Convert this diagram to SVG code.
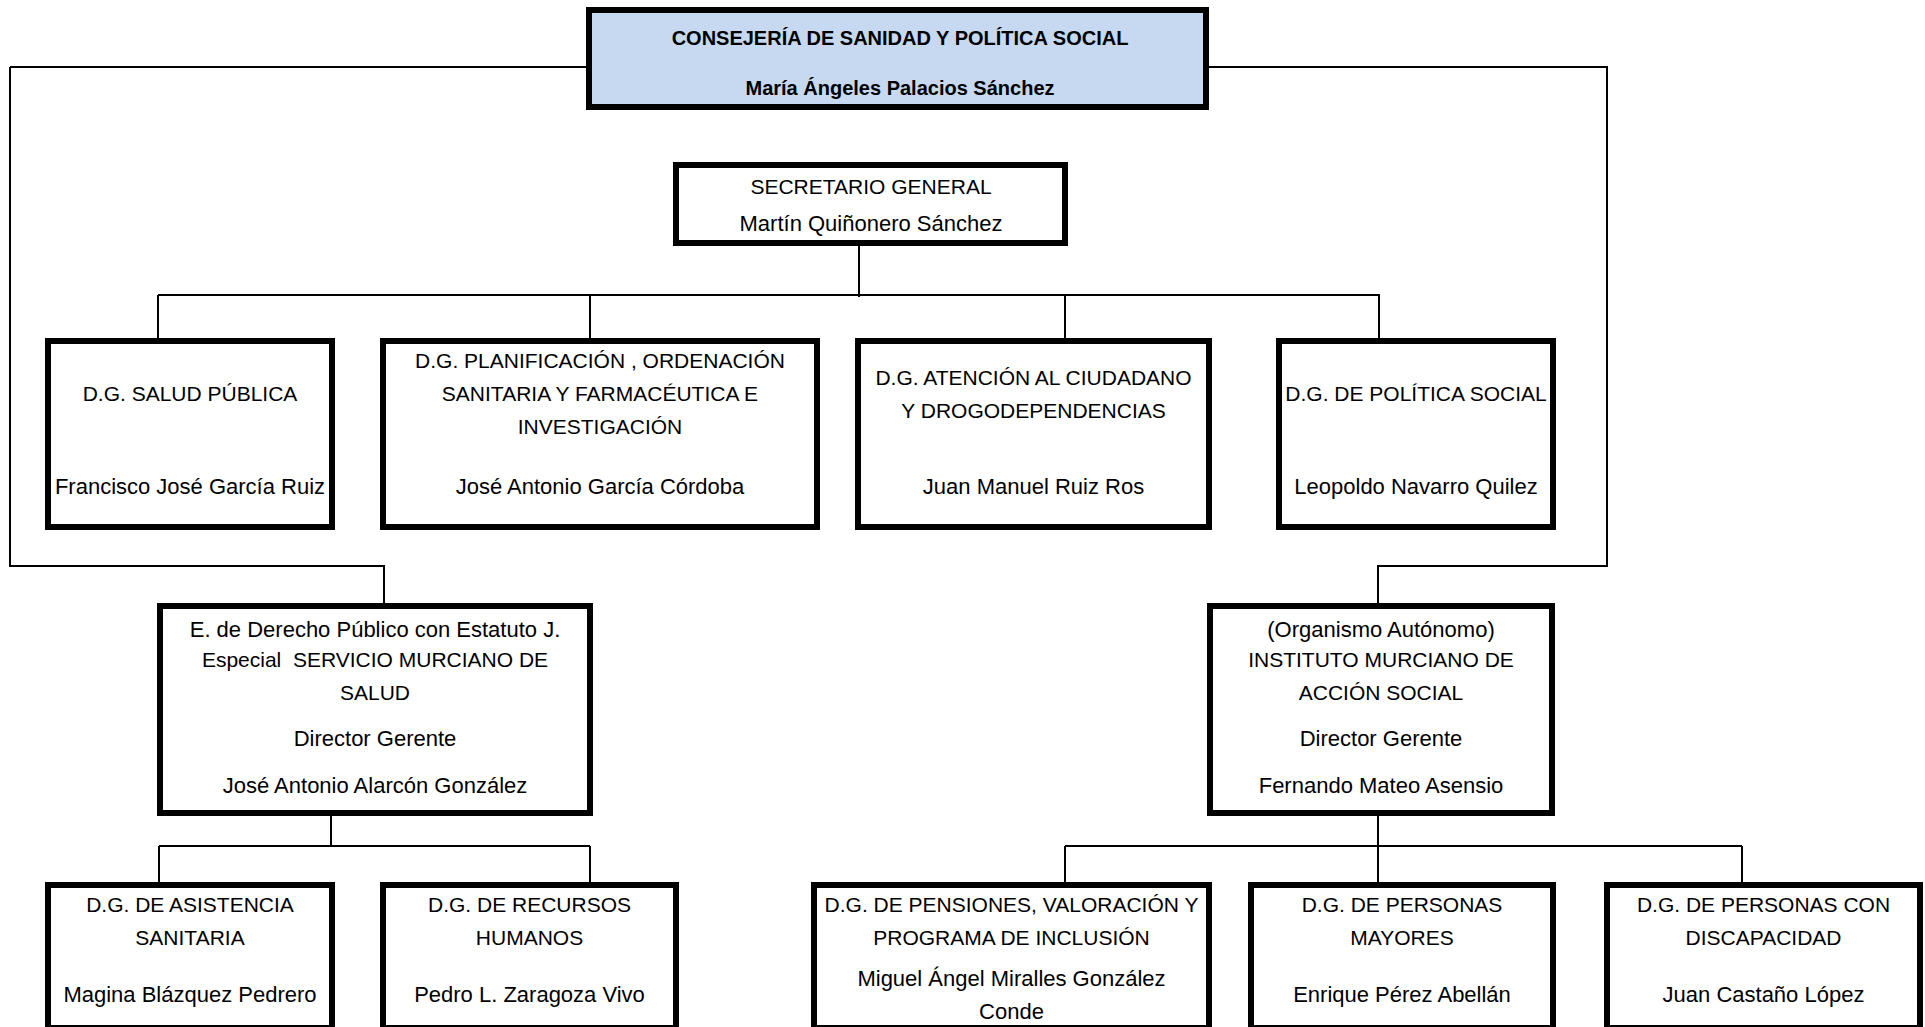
<svg xmlns="http://www.w3.org/2000/svg" width="1925" height="1027" viewBox="0 0 1925 1027">
<style>
.box{fill:#fff;stroke:#000;stroke-width:6}
.top{fill:#C6D9F1;stroke:#000;stroke-width:6}
.c{fill:none;stroke:#000;stroke-width:2}
text{font-family:"Liberation Sans",Arial,sans-serif;fill:#000;text-anchor:middle}
.t{font-size:21px}
.n{font-size:22px}
.b{font-size:20px;font-weight:bold}
</style>
<rect width="1925" height="1027" fill="#fff"/>
<g id="connectors">
<path class="c" d="M10,67 H586 M10,67 V566 H384 V603"/>
<path class="c" d="M1209,67 H1607 V566 H1378 V603"/>
<path class="c" d="M859,246 V297 M158,295 H1380 M158,295 V338 M590,295 V338 M1065,295 V338 M1379,295 V338"/>
<path class="c" d="M331,816 V846 M159,846 H590 M159,846 V882 M590,846 V882"/>
<path class="c" d="M1378,816 V882 M1065,846 H1742 M1065,846 V882 M1742,846 V882"/>
</g>
<g id="consejeria">
<rect class="top" x="589" y="10" width="617" height="97"/>
<text class="b" x="900" y="45">CONSEJERÍA DE SANIDAD Y POLÍTICA SOCIAL</text>
<text class="b" x="900" y="95">María Ángeles Palacios Sánchez</text>
</g>
<g id="secretario">
<rect class="box" x="676" y="165" width="389" height="78"/>
<text class="t" x="871" y="194">SECRETARIO GENERAL</text>
<text class="n" x="871" y="231">Martín Quiñonero Sánchez</text>
</g>
<g id="dg-salud-publica">
<rect class="box" x="48" y="341" width="284" height="186"/>
<text class="t" x="190" y="401">D.G. SALUD PÚBLICA</text>
<text class="n" x="190" y="494">Francisco José García Ruiz</text>
</g>
<g id="dg-planificacion">
<rect class="box" x="383" y="341" width="434" height="186"/>
<text class="t" x="600" y="368">D.G. PLANIFICACIÓN , ORDENACIÓN</text>
<text class="t" x="600" y="401">SANITARIA Y FARMACÉUTICA E</text>
<text class="t" x="600" y="434">INVESTIGACIÓN</text>
<text class="n" x="600" y="494">José Antonio García Córdoba</text>
</g>
<g id="dg-atencion">
<rect class="box" x="858" y="341" width="351" height="186"/>
<text class="t" x="1033.5" y="385">D.G. ATENCIÓN AL CIUDADANO</text>
<text class="t" x="1033.5" y="418">Y DROGODEPENDENCIAS</text>
<text class="n" x="1033.5" y="494">Juan Manuel Ruiz Ros</text>
</g>
<g id="dg-politica-social">
<rect class="box" x="1279" y="341" width="274" height="186"/>
<text class="t" x="1416" y="401">D.G. DE POLÍTICA SOCIAL</text>
<text class="n" x="1416" y="494">Leopoldo Navarro Quilez</text>
</g>
<g id="sms">
<rect class="box" x="160" y="606" width="430" height="207"/>
<text class="n" x="375" y="637">E. de Derecho Público con Estatuto J.</text>
<text class="t" x="375" y="667" xml:space="preserve">Especial  SERVICIO MURCIANO DE</text>
<text class="t" x="375" y="700">SALUD</text>
<text class="n" x="375" y="746">Director Gerente</text>
<text class="n" x="375" y="793">José Antonio Alarcón González</text>
</g>
<g id="imas">
<rect class="box" x="1210" y="606" width="342" height="207"/>
<text class="n" x="1381" y="637">(Organismo Autónomo)</text>
<text class="t" x="1381" y="667">INSTITUTO MURCIANO DE</text>
<text class="t" x="1381" y="700">ACCIÓN SOCIAL</text>
<text class="n" x="1381" y="746">Director Gerente</text>
<text class="n" x="1381" y="793">Fernando Mateo Asensio</text>
</g>
<g id="dg-asistencia">
<rect class="box" x="48" y="885" width="284" height="143"/>
<text class="t" x="190" y="912">D.G. DE ASISTENCIA</text>
<text class="t" x="190" y="945">SANITARIA</text>
<text class="n" x="190" y="1002">Magina Blázquez Pedrero</text>
</g>
<g id="dg-recursos">
<rect class="box" x="383" y="885" width="293" height="143"/>
<text class="t" x="529.5" y="912">D.G. DE RECURSOS</text>
<text class="t" x="529.5" y="945">HUMANOS</text>
<text class="n" x="529.5" y="1002">Pedro L. Zaragoza Vivo</text>
</g>
<g id="dg-pensiones">
<rect class="box" x="814" y="885" width="395" height="143"/>
<text class="t" x="1011.5" y="912">D.G. DE PENSIONES, VALORACIÓN Y</text>
<text class="t" x="1011.5" y="945">PROGRAMA DE INCLUSIÓN</text>
<text class="n" x="1011.5" y="985.5">Miguel Ángel Miralles González</text>
<text class="n" x="1011.5" y="1018.5">Conde</text>
</g>
<g id="dg-mayores">
<rect class="box" x="1251" y="885" width="302" height="143"/>
<text class="t" x="1402" y="912">D.G. DE PERSONAS</text>
<text class="t" x="1402" y="945">MAYORES</text>
<text class="n" x="1402" y="1002">Enrique Pérez Abellán</text>
</g>
<g id="dg-discapacidad">
<rect class="box" x="1607" y="885" width="313" height="143"/>
<text class="t" x="1763.5" y="912">D.G. DE PERSONAS CON</text>
<text class="t" x="1763.5" y="945">DISCAPACIDAD</text>
<text class="n" x="1763.5" y="1002">Juan Castaño López</text>
</g>
</svg>
